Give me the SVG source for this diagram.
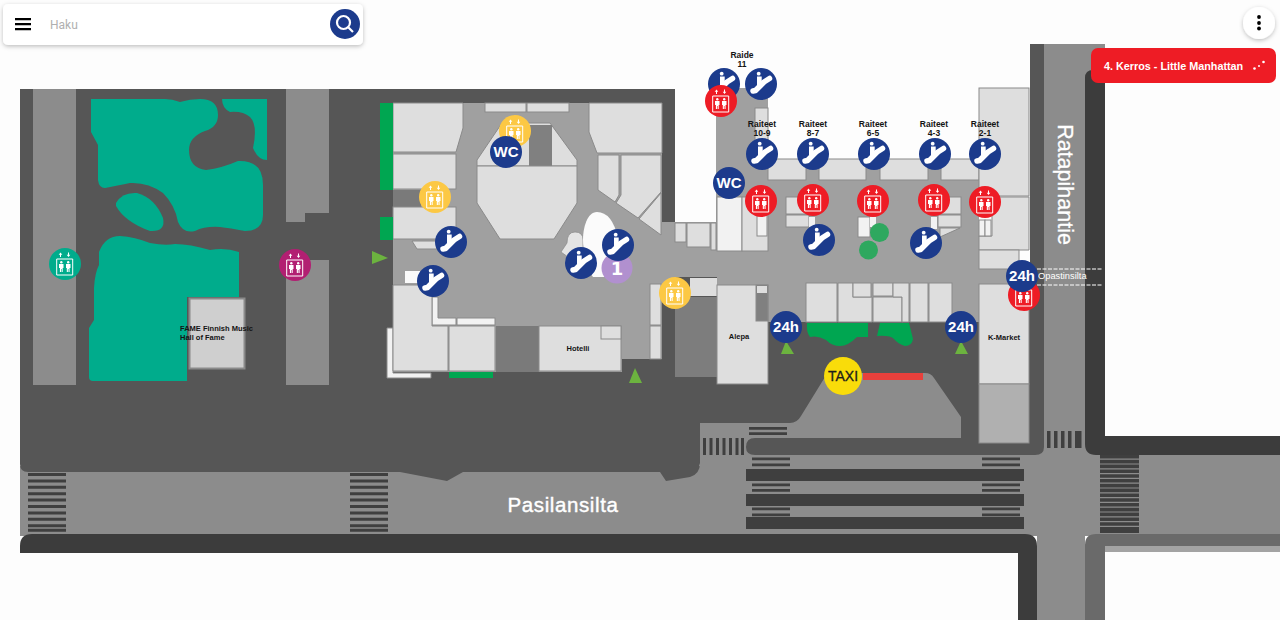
<svg xmlns="http://www.w3.org/2000/svg" width="1280" height="620" viewBox="0 0 1280 620">
<style>
.s{fill:#dedede;stroke:#8a8a8a;stroke-width:1}
.w{fill:#f2f2f2;stroke:#8a8a8a;stroke-width:1}
.bar{fill:#3f3f3f}
.t{font-family:"Liberation Sans",Arial,sans-serif;fill:#141414;text-anchor:middle;font-size:8.500px;font-weight:700}
.nl{font-family:"Liberation Sans",Arial,sans-serif;fill:#fff;font-weight:700;text-anchor:middle}
.gr{fill:#00a651}
.ar{fill:#6cb33f}
.teal{fill:#00ac8c}
.road{fill:#8c8c8c}
</style>
<defs>
<filter id="sh" x="-10%" y="-30%" width="120%" height="170%"><feDropShadow dx="0" dy="1.500" stdDeviation="2" flood-color="#000" flood-opacity="0.25"/></filter>
<g id="esc">
<circle r="16" fill="#1c3b8c"/>
<path d="M-8,7 L-5.500,6.500 L3,-2 L8.500,-5.500" stroke="#fff" stroke-width="5.500" stroke-linecap="round" stroke-linejoin="round" fill="none"/>
<circle cx="-2.300" cy="-10.300" r="1.900" fill="#fff"/>
<path d="M-4,-7.500 H0.700 V-1 L-4,3 Z" fill="#fff"/>
</g>
<g id="lift">
<path d="M-8.300,-5 H7.700 V11 H-8.300 Z" fill="none" stroke="#fff" stroke-width="1"/>
<path d="M-4.500,-11.500 L-6.300,-9.300 H-5 V-7 H-4 V-9.300 H-2.700 Z M3.500,-7 L1.700,-9.300 H3 V-11.500 H4 V-9.300 H5.300 Z" fill="#fff"/>
<path d="M-6,0 H-1.500 V4 H-2.300 V8 H-3.400 V5 H-4 V8 H-5.100 V4 H-6 Z M1,0 H5.500 V4 H4.600 V8 H3.500 V5 H2.900 V8 H1.800 V4 H1 Z" fill="#fff"/>
<circle cx="-3.700" cy="-1.700" r="1.200" fill="#fff"/><circle cx="3.200" cy="-1.700" r="1.200" fill="#fff"/>
</g>
</defs>
<rect width="1280" height="620" fill="#fdfdfd"/>

<g id="roads">
<rect class="road" x="20" y="466" width="700" height="70"/>
<rect class="road" x="700" y="423" width="405" height="113"/>
<rect class="road" x="1105" y="455" width="175" height="80"/>
<rect class="road" x="1044" y="44" width="61" height="400"/>
<rect class="road" x="1037" y="530" width="48" height="90"/>
<path d="M1085,78 Q1085,70 1093,70 H1105 V436 H1280 V455 H1096 Q1085,455 1085,444 Z" fill="#3c3c3c"/>
<path d="M20,553 V546 Q20,534 32,534 H1025 Q1037,534 1037,546 V620 H1018 V553 Z" fill="#3c3c3c"/>
<path d="M1105,620 H1085 V545 Q1085,534 1096,534 H1280 V546 H1105 Z" fill="#6a6a6a"/>
<rect x="1105" y="546" width="175" height="6" fill="#a3a3a3"/>
</g>

<g id="ground">
<path d="M20,464 V89 H675 V262 H1030 V44 H1044 V447 Q1044,455 1035,455 H755 Q746,455 746,447 V423 H700 V463 Q700,474 690,477 L666,481 L660,472 H463 L447,481 L400,472 H28 Q20,472 20,464 Z" fill="#565656"/>
<path class="road" d="M700,423 H790 Q797,423 801,416 L825,377 V373 H925 Q931,373 934,378 L961,417 V438 H755 Q746,438 746,447 V460 H700 Z"/>
<rect class="road" x="33" y="89" width="43" height="296"/>
<path class="road" d="M286,89 H329 V213 H305 V222 H286 Z M286,260 H329 V385 H286 Z"/>
</g>

<g id="crosswalks">
<path class="bar" d="M28,473h38v3h-38zM28,479.400h38v3h-38zM28,485.800h38v3h-38zM28,492.200h38v3h-38zM28,498.600h38v3h-38zM28,505h38v3h-38zM28,511.400h38v3h-38zM28,517.800h38v3h-38zM28,524.200h38v3h-38zM28,528.700h38v3h-38z"/>
<path class="bar" d="M350,473h38v3h-38zM350,479.400h38v3h-38zM350,485.800h38v3h-38zM350,492.200h38v3h-38zM350,498.600h38v3h-38zM350,505h38v3h-38zM350,511.400h38v3h-38zM350,517.800h38v3h-38zM350,524.200h38v3h-38zM350,528.700h38v3h-38z"/>
<path class="bar" d="M703,438h3v17h-3zM709.500,438h3v17h-3zM716,438h3v17h-3zM722.500,438h3v17h-3zM729,438h3v17h-3zM735.500,438h3v17h-3zM741,438h3v17h-3z"/>
<path class="bar" d="M1047,431h3.500v17h-3.500zM1054,431h3.500v17h-3.500zM1061,431h3.500v17h-3.500zM1068,431h3.500v17h-3.500zM1075,431h3.500v17h-3.500zM1078,431h3.500v17h-3.500z"/>
<path class="bar" d="M746,469h278v12h-278zM746,494h278v12h-278zM746,517h278v12h-278z"/>
<path class="bar" d="M749,427h38v2.700h-38zM749,432.300h38v2.700h-38zM752,457.500h38v2.700h-38zM752,463.500h38v2.700h-38zM752,483.500h38v2.700h-38zM752,489h38v2.700h-38zM752,507.500h38v2.700h-38zM752,513.500h38v2.700h-38z"/>
<path class="bar" d="M982,457.500h38v2.700h-38zM982,463.500h38v2.700h-38zM982,483.500h38v2.700h-38zM982,489h38v2.700h-38zM982,507.500h38v2.700h-38zM982,513.500h38v2.700h-38z"/>
<path class="bar" d="M1100,455h39v3.600h-39zM1100,459.800h39v3.600h-39zM1100,464.600h39v3.600h-39zM1100,469.400h39v3.600h-39zM1100,474.200h39v3.600h-39zM1100,479h39v3.600h-39zM1100,483.800h39v3.600h-39zM1100,488.600h39v3.600h-39zM1100,493.400h39v3.600h-39zM1100,498.200h39v3.600h-39zM1100,503h39v3.600h-39zM1100,507.800h39v3.600h-39zM1100,512.600h39v3.600h-39zM1100,517.400h39v3.600h-39zM1100,522.200h39v3.600h-39zM1100,527h39v6h-39z"/>
</g>

<g id="park">
<path class="teal" d="M91,99 H165 Q172,99 180,102 Q190,99 200,99 Q218,99 218,115 Q218,127 205,131 Q189,137 189,150 Q189,168 206,170 Q222,168 238,161 Q263,160 263,185 V215 Q263,231 245,231 Q230,228 220,227 Q205,226 195,231 Q183,234 178,222 Q175,205 163,193 Q148,182 130,183 Q115,186 105,188 Q99,188 98,180 V145 L91,132 Z"/>
<path class="teal" d="M222,99 H267 V160 Q258,160 253,148 Q258,125 250,117 Q243,111 230,112 Q222,108 222,99 Z"/>
<path class="teal" d="M116,203 Q122,192 137,193 Q155,198 163,218 Q166,232 150,231 Q125,222 116,206 Z"/>
<path class="teal" d="M99,252 Q105,236 120,236 Q135,237 150,243 Q165,246 175,244 Q190,244 210,250 Q225,247 239,252 V297 H187 V381 H93 Q89,381 89,377 V328 L94,320 V288 Q95,272 99,265 Z"/>
<rect x="189.500" y="298.500" width="55" height="70" fill="#cfcfcf" stroke="#8a8a8a" stroke-width="2"/>
</g>

<g id="floor">
<path d="M393,103 H662 V222 H716 V88 H768 V159 H979 V250 H1019 V269 H1030 V285 H979 V322 H768 V285 H717 V277 H676 V297 H662 V359 H622 V372 H393 Z" fill="#a0a0a0"/>
<rect x="496" y="326" width="43" height="46" fill="#7a7a7a"/>
<rect x="393" y="190" width="28" height="17" fill="#7a7a7a"/>
<rect x="675" y="297" width="42" height="80" fill="#7d7d7d"/>
<rect x="690" y="278" width="27" height="18" fill="#dedede"/>
</g>

<g id="shops">
<path class="s" d="M393,103 H463 V128 L456,152 H393 Z"/>
<rect class="s" x="393" y="154" width="63" height="35"/>
<rect class="s" x="393" y="207" width="63" height="32"/>
<path class="s" d="M412,241 H437 V249 H417 Z"/>
<rect x="405" y="271" width="15" height="12" fill="#fafafa"/>
<path class="w" d="M387,328 H393 V373 H431 V378 H387 Z"/>
<path class="w" d="M432,297 H438 V318 H456 V325 H432 Z"/>
<rect class="w" x="457" y="318" width="38" height="7"/>
<path class="s" d="M393,285 H432 V326 H448 V371 H393 Z"/>
<rect class="s" x="449" y="326" width="46" height="45"/>
<path class="s" d="M477,166 V160 L502,123 H550 L577,160 V166 Z"/>
<rect x="529" y="125" width="23" height="41" fill="#808080"/>
<path class="s" d="M477,166 H577 V203 L554,239 H500 L477,203 Z"/>
<rect class="s" x="485" y="103" width="41" height="9"/>
<rect class="s" x="527" y="103" width="42" height="9"/>
<path class="s" d="M589,103 H662 V153 H597 L589,132 Z"/>
<path class="s" d="M598,155 H619 V195 L615,202 L598,190 Z"/>
<path class="s" d="M621,155 H661 V192 L638,218 L616,203 L621,195 Z"/>
<path class="s" d="M661,193 V235 L639,219 Z"/>
<rect class="s" x="539" y="326" width="82" height="45"/>
<rect class="s" x="601" y="326" width="20" height="13"/>
<rect class="s" x="650" y="284" width="11" height="41"/>
<rect class="s" x="650" y="326" width="11" height="33"/>
<path d="M575,232 Q583,232 583,240 V256 L575,262 L561,252 L567,243 Q567,232 575,232 Z" fill="#e4e4e4" stroke="#8a8a8a" stroke-width="0.700"/>
<path d="M597,212 C587,212 583,228 583,240 C583,255 590,274 593,277 H612 L618,238 Q612,212 597,212 Z" fill="#fbfbfb"/>
<rect class="s" x="675" y="223" width="11" height="19"/>
<rect class="s" x="687" y="223" width="23" height="24"/>
<rect class="s" x="711" y="223" width="5" height="27"/>
<rect class="w" x="717" y="197" width="25" height="54"/>
<rect class="s" x="742" y="197" width="26" height="54"/>
<rect class="w" x="757" y="215" width="10" height="21"/>
<rect class="s" x="755" y="108" width="13" height="40"/>
<rect class="s" x="768" y="159" width="38" height="21"/>
<rect class="s" x="819" y="159" width="47" height="21"/>
<rect class="s" x="880" y="159" width="48" height="21"/>
<rect class="s" x="941" y="159" width="38" height="21"/>
<rect class="s" x="786" y="197" width="23" height="17"/>
<rect class="s" x="786" y="215" width="23" height="12"/>
<rect x="809" y="217" width="6" height="10" fill="#f2f2f2"/>
<rect class="w" x="858" y="217" width="12" height="20"/>
<rect x="870" y="217" width="6" height="10" fill="#f2f2f2"/>
<rect class="s" x="940" y="197" width="21" height="17"/>
<rect class="s" x="938" y="215" width="23" height="12"/>
<path class="s" d="M940,228 H960 L940,237 Z"/>
<rect x="931" y="217" width="6" height="12" fill="#f2f2f2"/>
<rect class="s" x="979" y="88" width="50" height="108"/>
<path class="s" d="M992,197 H1029 V250 H979 V236 H992 Z"/>
<rect class="w" x="979" y="220" width="6" height="16"/>
<rect class="w" x="985" y="220" width="6" height="16"/>
<rect class="s" x="979" y="250" width="40" height="19"/>
<rect class="s" x="717" y="285" width="51" height="99"/>
<rect x="756" y="285" width="12" height="36" fill="#808080" stroke="#8a8a8a"/>
<rect x="757" y="286" width="10" height="7" fill="#dedede"/>
<rect class="s" x="806" y="283" width="31" height="39"/>
<path class="s" d="M838,283 H853 V297 H872 V322 H838 Z"/>
<rect class="s" x="853" y="283" width="18" height="14"/>
<rect class="s" x="873" y="297" width="29" height="25"/>
<rect class="s" x="873" y="283" width="20" height="13"/>
<path class="s" d="M893,283 H909 V322 H902 V297 H893 Z"/>
<rect class="s" x="910" y="283" width="18" height="39"/>
<rect class="s" x="929" y="283" width="23" height="39"/>
<rect class="s" x="979" y="284" width="50" height="100"/>
<rect x="979" y="384" width="50" height="59" fill="#b0b0b0" stroke="#8a8a8a"/>
</g>

<g id="greenery">
<rect class="gr" x="380" y="103" width="13" height="87"/>
<rect class="gr" x="380" y="217" width="13" height="23"/>
<rect class="gr" x="449" y="372" width="44" height="6"/>
<path class="gr" d="M807,323 H868 V337 L857,337 Q848,346 840,346 Q832,346 826,340 Q818,335 810,337 Q806,332 807,323 Z"/>
<path class="gr" d="M880,323 H909 L913,339 Q912,346 905,346 Q898,344 894,339 Q890,335 877,336 Z"/>
<circle cx="879.500" cy="232.500" r="9.500" fill="#2ea85f"/>
<circle cx="868.500" cy="250" r="9.500" fill="#2ea85f"/>
</g>

<g id="entrances">
<path class="ar" d="M372,251 L388,258 L372,264 Z"/>
<path class="ar" d="M629,383 L635,368 L642,383 Z"/>
<path class="ar" d="M781,354 L786,341 L794,354 Z"/>
<path class="ar" d="M955,354 L961,341 L968,354 Z"/>
</g>

<g id="taxi-lane"><rect x="863" y="373" width="60" height="7" fill="#e8403c"/></g>

<g id="labels">
<text class="t" x="180" y="331" style="text-anchor:start;font-size:7.500px">FAME Finnish Music</text>
<text class="t" x="180" y="340" style="text-anchor:start;font-size:7.500px">Hall of Fame</text>
<text class="t" x="578" y="351" style="font-size:7.500px">Hotelli</text>
<text class="t" x="739" y="339" style="font-size:7.500px">Alepa</text>
<text class="t" x="1004" y="340" style="font-size:7.500px">K-Market</text>
<text class="t" x="742" y="58">Raide</text><text class="t" x="742" y="67">11</text>
<text class="t" x="762" y="127">Raiteet</text><text class="t" x="762" y="136">10-9</text>
<text class="t" x="813" y="127">Raiteet</text><text class="t" x="813" y="136">8-7</text>
<text class="t" x="873" y="127">Raiteet</text><text class="t" x="873" y="136">6-5</text>
<text class="t" x="934" y="127">Raiteet</text><text class="t" x="934" y="136">4-3</text>
<text class="t" x="985" y="127">Raiteet</text><text class="t" x="985" y="136">2-1</text>
<text class="nl" x="563" y="512" style="font-size:20.500px;font-weight:400;letter-spacing:0.600px;stroke:#fff;stroke-width:0.400px">Pasilansilta</text>
<text class="nl" transform="translate(1058,184.500) rotate(90)" style="font-size:21.500px;font-weight:400;stroke:#fff;stroke-width:0.300px">Ratapihantie</text>
</g>

<g id="bridge">
<path d="M1037,269 H1103 M1037,285 H1103" stroke="#fff" stroke-width="1" stroke-dasharray="4 1.500" fill="none"/>
<text x="1038" y="279" style="font-family:'Liberation Sans',Arial,sans-serif;font-size:9.300px;fill:#fff">Opastinsilta</text>
</g>

<g id="lift-yellow-1"><circle cx="515" cy="131" r="16" fill="#fcc844"/><use href="#lift" x="515" y="131"/></g>
<g id="lift-yellow-2"><circle cx="435" cy="197" r="16" fill="#fcc844"/><use href="#lift" x="435" y="197"/></g>
<g id="lift-yellow-3"><circle cx="675" cy="293" r="16" fill="#fcc844"/><use href="#lift" x="675" y="293"/></g>
<g id="lift-teal"><circle cx="65" cy="264" r="16" fill="#00ac8c"/><use href="#lift" x="65" y="264"/></g>
<g id="lift-magenta"><circle cx="295" cy="265" r="16" fill="#b21f72"/><use href="#lift" x="295" y="265"/></g>
<g id="wc-1"><circle cx="506" cy="152" r="16" fill="#1c3b8c"/><text class="nl" x="506" y="157" style="font-size:15px">WC</text></g>
<g id="wc-2"><circle cx="729" cy="183" r="16" fill="#1c3b8c"/><text class="nl" x="729" y="188" style="font-size:15px">WC</text></g>
<g id="info"><circle cx="617" cy="268" r="15.500" fill="#b190cf"/><text class="nl" x="617" y="275" style="font-size:18px;font-family:'DejaVu Sans',sans-serif">1</text></g>
<g id="esc-1"><use href="#esc" x="724" y="84"/></g>
<g id="esc-2"><use href="#esc" x="761" y="84"/></g>
<g id="lift-red-1"><circle cx="721" cy="101" r="16" fill="#ee1c25"/><use href="#lift" x="721" y="101"/></g>
<g id="esc-3"><use href="#esc" x="762" y="154"/></g>
<g id="esc-4"><use href="#esc" x="813" y="154"/></g>
<g id="esc-5"><use href="#esc" x="874" y="154"/></g>
<g id="esc-6"><use href="#esc" x="935" y="154"/></g>
<g id="esc-7"><use href="#esc" x="985" y="154"/></g>
<g id="lift-red-2"><circle cx="761" cy="201" r="16" fill="#ee1c25"/><use href="#lift" x="761" y="201"/></g>
<g id="lift-red-3"><circle cx="813" cy="200" r="16" fill="#ee1c25"/><use href="#lift" x="813" y="200"/></g>
<g id="lift-red-4"><circle cx="873" cy="201" r="16" fill="#ee1c25"/><use href="#lift" x="873" y="201"/></g>
<g id="lift-red-5"><circle cx="934" cy="200" r="16" fill="#ee1c25"/><use href="#lift" x="934" y="200"/></g>
<g id="lift-red-6"><circle cx="985" cy="202" r="16" fill="#ee1c25"/><use href="#lift" x="985" y="202"/></g>
<g id="esc-8"><use href="#esc" x="819" y="240"/></g>
<g id="esc-9"><use href="#esc" x="926" y="243"/></g>
<g id="esc-10"><use href="#esc" x="451" y="242"/></g>
<g id="esc-11"><use href="#esc" x="433" y="281"/></g>
<g id="esc-12"><use href="#esc" x="581" y="263"/></g>
<g id="esc-13"><use href="#esc" x="618" y="245"/></g>
<g id="lift-red-7"><circle cx="1024" cy="295" r="16" fill="#ee1c25"/><use href="#lift" x="1024" y="295"/></g>
<g id="h24-1"><circle cx="786" cy="327" r="16" fill="#1c3b8c"/><text class="nl" x="786" y="332" style="font-size:15px">24h</text></g>
<g id="h24-2"><circle cx="961" cy="327" r="16" fill="#1c3b8c"/><text class="nl" x="961" y="332" style="font-size:15px">24h</text></g>
<g id="h24-3"><circle cx="1022" cy="276" r="16" fill="#1c3b8c"/><text class="nl" x="1022" y="281" style="font-size:15px">24h</text></g>
<g id="taxi"><circle cx="843" cy="376" r="19" fill="#f9dc0a"/><text class="nl" x="843" y="381" style="font-size:14px;font-weight:400;stroke:#1c1c1c;stroke-width:0.300px;fill:#1c1c1c">TAXI</text></g>

<g id="search-bar">
<rect x="3" y="4" width="360" height="41" rx="5" fill="#fff" filter="url(#sh)"/>
<path d="M15,18h16v2.200h-16zM15,23h16v2.200h-16zM15,28h16v2.200h-16z" fill="#000"/>
<text x="50" y="29" style="font-family:Roboto,sans-serif;font-size:12px;fill:#b0b0b0">Haku</text>
<circle cx="345" cy="24" r="15" fill="#1c3b8c"/>
<circle cx="343.500" cy="22.500" r="6.500" fill="none" stroke="#fff" stroke-width="2.200"/>
<path d="M348.500,27.500 L353,32" stroke="#fff" stroke-width="2.200" fill="none"/>
</g>
<g id="menu">
<circle cx="1259" cy="23" r="16" fill="#fff" filter="url(#sh)"/>
<circle cx="1259" cy="17" r="1.900" fill="#000"/><circle cx="1259" cy="23" r="1.900" fill="#000"/><circle cx="1259" cy="28.500" r="1.900" fill="#000"/>
</g>
<g id="floor-selector">
<rect x="1091" y="48" width="185" height="35" rx="7" fill="#ee1c25"/>
<text x="1104" y="70" style="font-family:'Liberation Sans',Arial,sans-serif;font-size:10.800px;font-weight:700;fill:#fff">4. Kerros - Little Manhattan</text>
<circle cx="1254.500" cy="68.500" r="1.300" fill="#fff"/><circle cx="1259" cy="66" r="1" fill="#fff"/><circle cx="1263.500" cy="62" r="1.300" fill="#fff"/>
</g>
</svg>
